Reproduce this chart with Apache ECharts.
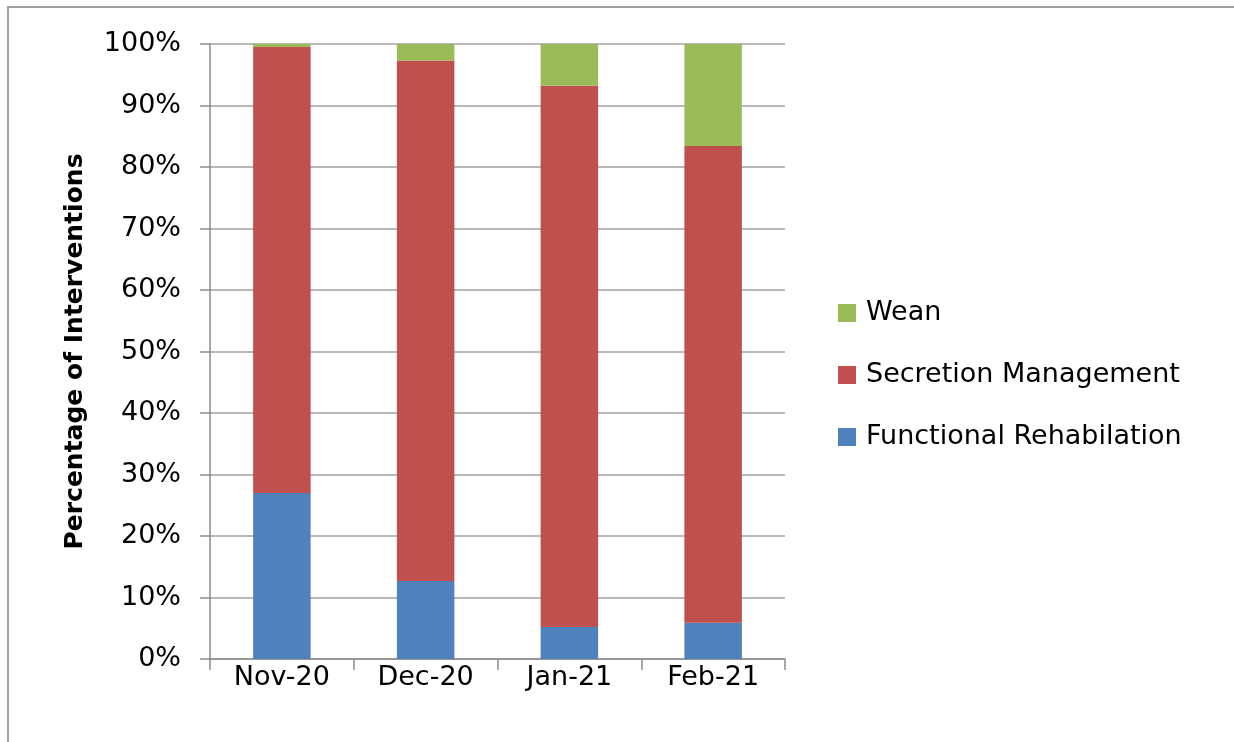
<!DOCTYPE html>
<html>
<head>
<meta charset="utf-8">
<script src="https://cdn.jsdelivr.net/npm/echarts@6/dist/echarts.min.js"></script>
<style>
  html, body { margin: 0; padding: 0; background: #fff; }
  #frame {
    position: absolute; left: 7px; top: 6px; width: 1240px; height: 750px;
    border-left: 2px solid #a0a0a0; border-top: 2px solid #a0a0a0;
    box-sizing: border-box;
  }
  #chart { position: absolute; left: 0; top: 0; width: 1234px; height: 742px; }
</style>
</head>
<body>
<div id="frame"></div>
<div id="chart"></div>
<script>
// months on the x axis
const months = ['Nov-20', 'Dec-20', 'Jan-21', 'Feb-21'];

// percentage of interventions per month
const functionalRehab = [27.0, 12.7, 5.2, 5.9];
const secretionMgmt = [72.5, 84.6, 88.0, 77.5];
const wean = [0.5, 2.7, 6.8, 16.6];

const yTicks = [0, 10, 20, 30, 40, 50, 60, 70, 80, 90, 100];

const fontFamily = 'DejaVu Sans';

const chart = echarts.init(document.getElementById('chart'));

const option = {
  animation: false,
  grid: {
    left: 210,
    right: 449,
    top: 44,
    bottom: 83
  },
  legend: {
    orient: 'vertical',
    left: 838,
    top: 299,
    padding: 0,
    itemWidth: 18,
    itemHeight: 18,
    itemGap: 34,
    icon: 'rect',
    data: ['Wean', 'Secretion Management', 'Functional Rehabilation'],
    textStyle: {
      fontFamily: fontFamily,
      fontSize: 27,
      lineHeight: 28,
      color: '#000',
      padding: [0, 0, 0, 5]
    }
  },
  xAxis: {
    type: 'category',
    data: months,
    axisLine: { lineStyle: { color: '#8c8c8c', width: 1.5 } },
    axisTick: { show: true, length: 11, lineStyle: { color: '#8c8c8c', width: 1.5 } },
    axisLabel: {
      color: '#000',
      fontFamily: fontFamily,
      fontSize: 27,
      margin: 5
    }
  },
  yAxis: {
    type: 'value',
    min: yTicks[0],
    max: yTicks[yTicks.length - 1],
    interval: 10,
    name: 'Percentage of Interventions',
    nameLocation: 'middle',
    nameGap: 122,
    nameTextStyle: {
      color: '#000',
      fontFamily: fontFamily,
      fontWeight: 'bold',
      fontSize: 25
    },
    axisLine: { show: true, lineStyle: { color: '#8c8c8c', width: 1.5 } },
    axisTick: { show: true, length: 10, lineStyle: { color: '#8c8c8c', width: 1.5 } },
    axisLabel: {
      color: '#000',
      fontFamily: fontFamily,
      fontSize: 27,
      margin: 29,
      formatter: '{value}%'
    },
    splitLine: { lineStyle: { color: '#a0a0a0', width: 1.5 } }
  },
  series: [
    {
      name: 'Functional Rehabilation',
      type: 'bar',
      stack: 'total',
      barWidth: '40%',
      itemStyle: { color: '#4f81bd' },
      data: functionalRehab
    },
    {
      name: 'Secretion Management',
      type: 'bar',
      stack: 'total',
      itemStyle: { color: '#c0504d' },
      data: secretionMgmt
    },
    {
      name: 'Wean',
      type: 'bar',
      stack: 'total',
      itemStyle: { color: '#9bbb59' },
      data: wean
    }
  ]
};

chart.setOption(option);
</script>
</body>
</html>
